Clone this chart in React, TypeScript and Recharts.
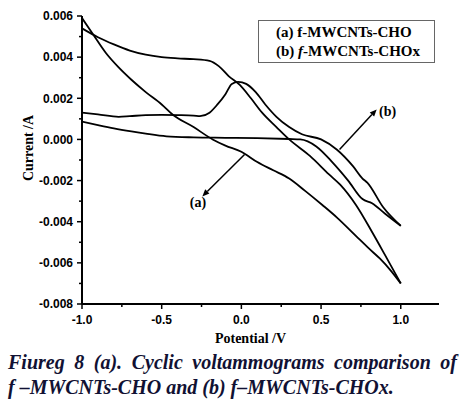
import React from 'react';
import {
  LineChart,
  Line,
  XAxis,
  YAxis,
  ReferenceLine,
  ReferenceDot
} from 'recharts';

// curve (a): f-MWCNTs-CHO, two branches of the loop
const aUpperV = [-1.0, -0.9, -0.8, -0.7, -0.6, -0.5, -0.4, -0.3, -0.2, -0.14, -0.08, -0.01, 0.06, 0.13, 0.22, 0.3, 0.43, 0.55, 0.62, 0.72, 0.82, 0.9, 1.0];
const aUpperI = [0.0054, 0.00497, 0.00462, 0.00432, 0.00412, 0.004, 0.00394, 0.0039, 0.00382, 0.00355, 0.00308, 0.00265, 0.002, 0.0013, 0.0006, 0.0, -0.0008, -0.0017, -0.0022, -0.0032, -0.0045, -0.0056, -0.007];
const aLowerV = [-1.0, -0.93, -0.85, -0.77, -0.69, -0.6, -0.5, -0.43, -0.3, -0.18, -0.1, 0.0, 0.1, 0.2, 0.3, 0.4, 0.51, 0.6, 0.72, 0.8, 0.87, 0.94, 1.0];
const aLowerI = [0.0059, 0.0051, 0.0042, 0.0035, 0.0029, 0.0023, 0.0017, 0.0012, 0.0006, 0.0, -0.0003, -0.0006, -0.0011, -0.0015, -0.0019, -0.0025, -0.0032, -0.0038, -0.0047, -0.0053, -0.0058, -0.0064, -0.007];

// curve (b): f-MWCNTs-CHOx
const bPeakV = [-1.0, -0.9, -0.77, -0.7, -0.6, -0.5, -0.4, -0.3, -0.26, -0.2, -0.15, -0.1, -0.06, -0.02, 0.03, 0.09, 0.15, 0.22, 0.3, 0.38, 0.5, 0.6, 0.7, 0.76, 0.79, 0.89, 1.0];
const bPeakI = [0.0013, 0.00122, 0.0011, 0.00113, 0.00118, 0.00119, 0.00118, 0.00116, 0.00113, 0.0013, 0.0017, 0.0022, 0.0027, 0.0028, 0.0027, 0.0023, 0.0017, 0.0011, 0.0006, 0.00025, 0.0, -0.0005, -0.0013, -0.0019, -0.0021, -0.0033, -0.0042];
const bBaseV = [-1.0, -0.9, -0.8, -0.69, -0.6, -0.47, -0.3, -0.1, 0.1, 0.3, 0.37, 0.47, 0.57, 0.67, 0.76, 0.82, 0.9, 1.0];
const bBaseI = [0.00087, 0.0007, 0.00054, 0.00039, 0.00028, 0.00015, 0.0001, 0.00008, 0.00006, 0.00002, 0.0, -0.00034, -0.0011, -0.002, -0.0029, -0.0031, -0.0036, -0.0042];

const xTicks = [-1.0, -0.75, -0.5, -0.25, 0.0, 0.25, 0.5, 0.75, 1.0];
const yTicks = [-0.008, -0.007, -0.006, -0.005, -0.004, -0.003, -0.002, -0.001, 0.0, 0.001, 0.002, 0.003, 0.004, 0.005, 0.006];

const legendNames = ['f-MWCNTs-CHO', 'f-MWCNTs-CHOx'];

const toPoints = (vs: number[], is: number[]) => vs.map((v, k) => ({ v, i: is[k] }));

const tickFont = { fontFamily: '"Liberation Sans", Arial, sans-serif', fontWeight: 700, fontSize: 12 };
const serif = '"Liberation Serif", "Times New Roman", serif';

function XTick({ x, y, payload }: any) {
  const v = payload.value;
  const major = Math.round(v * 4) % 2 === 0;
  return (
    <g>
      <line x1={x} x2={x} y1={y} y2={y + (major ? 5 : 3)} stroke="#000" strokeWidth={1.5} />
      {major && (
        <text x={x} y={y + 20} textAnchor="middle" fill="#000" {...tickFont}>
          {v.toFixed(1)}
        </text>
      )}
    </g>
  );
}

function YTick({ x, y, payload }: any) {
  const v = payload.value;
  const major = Math.round(v * 1000) % 2 === 0;
  return (
    <g>
      <line x1={x - (major ? 5 : 3)} x2={x} y1={y} y2={y} stroke="#000" strokeWidth={1.5} />
      {major && (
        <text x={x - 9} y={y + 4.3} textAnchor="end" fill="#000" {...tickFont}>
          {v.toFixed(3)}
        </text>
      )}
    </g>
  );
}

// line ending in a small arrow head at (x2, y2)
function Arrow(props: any) {
  const { x1, y1, x2, y2 } = props;
  const ang = Math.atan2(y2 - y1, x2 - x1);
  const len = 7;
  const w = 3;
  const bx = x2 - len * Math.cos(ang);
  const by = y2 - len * Math.sin(ang);
  const px = -Math.sin(ang) * w;
  const py = Math.cos(ang) * w;
  return (
    <g>
      <line x1={x1} y1={y1} x2={bx} y2={by} stroke="#000" strokeWidth={1.5} />
      <polygon points={`${x2},${y2} ${bx + px},${by + py} ${bx - px},${by - py}`} fill="#000" />
    </g>
  );
}

const tag = (text: string) => (p: any) => (
  <text x={p.cx} y={p.cy + 5} textAnchor="middle" fill="#000" fontFamily={serif} fontWeight={700} fontSize={14}>
    {text}
  </text>
);

export default function App() {
  return (
    <div style={{ position: 'absolute', left: 0, top: 0, width: 472, height: 404, background: '#fff' }}>
      <LineChart width={472} height={348} margin={{ top: 16, right: 33, left: 0, bottom: 4 }}>
        <XAxis
          dataKey="v"
          type="number"
          domain={[-1.0, 1.24]}
          allowDataOverflow
          ticks={xTicks}
          interval={0}
          tick={<XTick />}
          tickLine={false}
          tickSize={0}
          tickMargin={0}
          height={40}
          axisLine={{ stroke: '#000', strokeWidth: 2 }}
          label={{
            content: ({ viewBox }: any) => (
              <text
                x={viewBox.x + viewBox.width / 2 - 10}
                y={viewBox.y + 39}
                textAnchor="middle"
                fill="#000"
                fontFamily={serif}
                fontWeight={700}
                fontSize={14}
              >
                Potential /V
              </text>
            )
          }}
        />
        <XAxis xAxisId="top" orientation="top" type="number" domain={[-1.0, 1.24]} height={0} tick={false} tickLine={false} axisLine={{ stroke: '#000', strokeWidth: 2 }} />
        <YAxis
          type="number"
          domain={[-0.008, 0.006]}
          allowDataOverflow
          ticks={yTicks}
          interval={0}
          tick={<YTick />}
          tickLine={false}
          tickSize={0}
          tickMargin={0}
          width={82}
          axisLine={{ stroke: '#000', strokeWidth: 2 }}
          label={{
            content: ({ viewBox }: any) => {
              const cx = viewBox.x + 28;
              const cy = viewBox.y + viewBox.height / 2 - 12;
              return (
                <text
                  x={cx}
                  y={cy}
                  transform={`rotate(-90 ${cx} ${cy})`}
                  textAnchor="middle"
                  dominantBaseline="central"
                  fill="#000"
                  fontFamily={serif}
                  fontWeight={700}
                  fontSize={14}
                >
                  Current /A
                </text>
              );
            }
          }}
        />
        <YAxis yAxisId="right" orientation="right" type="number" domain={[-0.008, 0.006]} width={0} tick={false} tickLine={false} axisLine={{ stroke: '#000', strokeWidth: 2 }} />

        <Line data={toPoints(aUpperV, aUpperI)} dataKey="i" type="monotone" stroke="#000" strokeWidth={1.8} dot={false} isAnimationActive={false} name={legendNames[0]} />
        <Line data={toPoints(aLowerV, aLowerI)} dataKey="i" type="monotone" stroke="#000" strokeWidth={1.8} dot={false} isAnimationActive={false} name={legendNames[0]} />
        <Line data={toPoints(bPeakV, bPeakI)} dataKey="i" type="monotone" stroke="#000" strokeWidth={1.8} dot={false} isAnimationActive={false} name={legendNames[1]} />
        <Line data={toPoints(bBaseV, bBaseI)} dataKey="i" type="monotone" stroke="#000" strokeWidth={1.8} dot={false} isAnimationActive={false} name={legendNames[1]} />

        <ReferenceLine segment={[{ x: 0.02, y: -0.00073 }, { x: -0.245, y: -0.00277 }]} shape={(p: any) => <Arrow {...p} />} />
        <ReferenceLine segment={[{ x: 0.616, y: -0.00049 }, { x: 0.849, y: 0.00146 }]} shape={(p: any) => <Arrow {...p} />} />
        <ReferenceDot x={-0.272} y={-0.00306} r={0} shape={tag('(a)')} />
        <ReferenceDot x={0.918} y={0.00136} r={0} shape={tag('(b)')} />
      </LineChart>

      <div
        style={{
          position: 'absolute',
          left: 258,
          top: 20,
          width: 177,
          height: 43,
          boxSizing: 'border-box',
          border: '1px solid #666',
          background: '#fff',
          paddingLeft: 17,
          paddingTop: 2,
          fontFamily: serif,
          fontWeight: 700,
          fontSize: 15,
          lineHeight: '19px',
          color: '#000',
          whiteSpace: 'nowrap'
        }}
      >
        <div>(a) {legendNames[0]}</div>
        <div>
          (b) <i>f</i>
          {legendNames[1].slice(1)}
        </div>
      </div>

      <div
        style={{
          position: 'absolute',
          left: 8,
          top: 350,
          width: 449,
          fontFamily: serif,
          fontWeight: 700,
          fontStyle: 'italic',
          fontSize: 20,
          lineHeight: '25px',
          color: '#111133'
        }}
      >
        <div style={{ textAlign: 'justify', textAlignLast: 'justify' }}>
          Fiureg 8 (a). Cyclic voltammograms comparison of
        </div>
        <div>f –MWCNTs-CHO and (b) f–MWCNTs-CHOx.</div>
      </div>
    </div>
  );
}
